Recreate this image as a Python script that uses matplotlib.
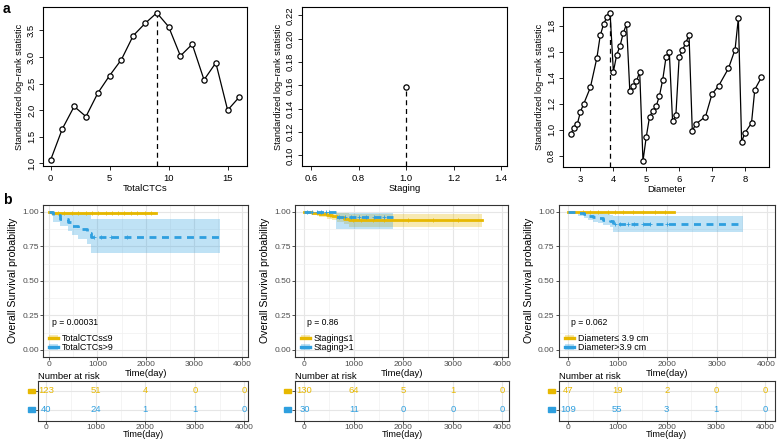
import matplotlib
matplotlib.use('Agg')
import matplotlib.pyplot as plt
import numpy as np
from matplotlib.lines import Line2D
from matplotlib.patches import Patch, Rectangle
from matplotlib.ticker import MultipleLocator

plt.rcParams['font.family'] = ['Liberation Sans', 'DejaVu Sans']

W, H = 778, 440
YELLOW = '#E7B800'
BLUE = '#2E9FDF'

# a: 标准化 log-rank 统计量
ctc_x = list(range(17))
ctc_stat = [1.06, 1.65, 2.07, 1.88, 2.32, 2.65, 2.95, 3.40, 3.63, 3.83, 3.57, 3.02, 3.24, 2.57, 2.89, 2.00, 2.25]
ctc_cut = 9

stage_x = [1.0]
stage_stat = [0.159]
stage_cut = 1.0

dia_x = [2.7, 2.8, 2.9, 3.0, 3.1, 3.3, 3.5, 3.6, 3.7, 3.8, 3.9,
         4.0, 4.1, 4.2, 4.3, 4.4, 4.5, 4.6, 4.7, 4.8, 4.9,
         5.0, 5.1, 5.2, 5.3, 5.4, 5.5, 5.6, 5.7, 5.8, 5.9,
         6.0, 6.1, 6.2, 6.3, 6.4, 6.5, 6.8, 7.0, 7.2, 7.5, 7.7, 7.8, 7.9, 8.0, 8.2, 8.3, 8.5]
dia_stat = [0.97, 1.01, 1.04, 1.14, 1.20, 1.325, 1.555, 1.725, 1.81, 1.867, 1.898,
            1.446, 1.575, 1.642, 1.743, 1.813, 1.296, 1.335, 1.371, 1.446, 0.759,
            0.945, 1.10, 1.144, 1.18, 1.26, 1.384, 1.557, 1.60, 1.064, 1.11,
            1.557, 1.611, 1.668, 1.728, 0.989, 1.043, 1.10, 1.275, 1.337, 1.472, 1.617, 1.857, 0.906, 0.976, 1.051, 1.309, 1.402]
dia_cut = 3.9

# b: 生存曲线 (阶梯起点, 生存率, 置信区间)
ctc_lo_t = [0, 60]
ctc_lo_s = [1.0, 0.992]
ctc_lo_l = [1.0, 0.976]
ctc_lo_u = [1.0, 1.0]
ctc_lo_end = 2210
ctc_lo_cens = [180, 310, 470, 590, 760, 880, 1010, 1180, 1300, 1420, 1560, 1700, 1830, 1990, 2120]
ctc_hi_t = [0, 90, 230, 400, 470, 600, 780, 870]
ctc_hi_s = [1.0, 0.975, 0.95, 0.925, 0.9, 0.875, 0.85, 0.816]
ctc_hi_l = [1.0, 0.93, 0.90, 0.86, 0.83, 0.80, 0.77, 0.70]
ctc_hi_u = [1.0, 1.0, 0.985, 0.985, 0.985, 0.982, 0.982, 0.946]
ctc_hi_end = 3540
ctc_hi_cens = [940, 1080, 1290, 1620]

stg_lo_t = [0, 150, 300, 450, 550, 650, 800, 900]
stg_lo_s = [1.0, 0.992, 0.985, 0.977, 0.969, 0.961, 0.95, 0.94]
stg_lo_l = [1.0, 0.978, 0.965, 0.952, 0.94, 0.928, 0.912, 0.89]
stg_lo_u = [1.0, 1.0, 1.0, 1.0, 0.998, 0.995, 0.99, 0.988]
stg_lo_end = 3585
stg_lo_cens = [260, 520, 980, 1150, 1380, 1600, 2100, 2600, 3100]
stg_hi_t = [0, 640]
stg_hi_s = [1.0, 0.96]
stg_hi_l = [1.0, 0.875]
stg_hi_u = [1.0, 0.99]
stg_hi_end = 1800
stg_hi_cens = [60, 150, 260, 330, 430, 500, 700, 820, 950, 1100, 1250, 1400, 1600]

dia_lo_t = [0]
dia_lo_s = [1.0]
dia_lo_l = [1.0]
dia_lo_u = [1.0]
dia_lo_end = 2140
dia_lo_cens = [300, 450, 600, 800, 950, 1100, 1300, 1500, 1750, 1950]
dia_hi_t = [0, 200, 330, 410, 510, 610, 710, 840, 910]
dia_hi_s = [1.0, 0.991, 0.982, 0.972, 0.963, 0.953, 0.943, 0.933, 0.911]
dia_hi_l = [1.0, 0.973, 0.958, 0.943, 0.93, 0.916, 0.903, 0.89, 0.851]
dia_hi_u = [1.0, 1.0, 1.0, 1.0, 0.997, 0.99, 0.984, 0.978, 0.971]
dia_hi_end = 3535
dia_hi_cens = [940, 1050, 1200, 1330, 1500, 1650, 2000]

# 风险人数表
risk_times = [0, 1000, 2000, 3000, 4000]
ctc_risk_lo = [123, 51, 4, 0, 0]
ctc_risk_hi = [40, 24, 1, 1, 0]
stg_risk_lo = [130, 64, 5, 1, 0]
stg_risk_hi = [30, 11, 0, 0, 0]
dia_risk_lo = [47, 19, 2, 0, 0]
dia_risk_hi = [109, 55, 3, 1, 0]

ctc_labels = ['TotalCTCs\u22649', 'TotalCTCs>9']
stg_labels = ['Staging\u22641', 'Staging>1']
dia_labels = ['Diameter\u2264 3.9 cm', 'Diameter>3.9 cm']
pvals = ['p = 0.00031', 'p = 0.86', 'p = 0.062']


def px_box(x0, y0, x1, y1):
    """像素框 -> figure 坐标"""
    return [x0 / W, 1 - y1 / H, (x1 - x0) / W, (y1 - y0) / H]


def draw_maxstat(ax, xs, stats, cut, xlabel, xlim, ylim, xstep, ystep, yfmt):
    ax.plot(xs, stats, color='black', lw=0.9, marker='o', ms=3.8,
            mfc='white', mec='black', mew=0.9, zorder=3)
    top = stats[xs.index(cut)]
    ax.plot([cut, cut], [ylim[0], top], color='black', lw=0.9, ls='--', dashes=(4, 3))
    ax.set_xlim(xlim)
    ax.set_ylim(ylim)
    ax.xaxis.set_major_locator(MultipleLocator(xstep))
    ax.yaxis.set_major_locator(MultipleLocator(ystep))
    ax.yaxis.set_major_formatter(plt.FormatStrFormatter(yfmt))
    ax.tick_params(length=3, width=0.6, labelsize=6.8, pad=3, color='black')
    ax.tick_params(axis='y', labelrotation=90, pad=2)
    for lab in ax.get_yticklabels():
        lab.set_va('center')
    for sp in ax.spines.values():
        sp.set_linewidth(0.8)
    ax.set_xlabel(xlabel, fontsize=6.8, labelpad=0.5)
    ax.set_ylabel('Standardized log\u2212rank statistic', fontsize=6.6, labelpad=2.5)


def gg_style(ax):
    ax.set_axisbelow(True)
    ax.grid(True, which='major', color='#E6E6E6', lw=0.8)
    ax.grid(True, which='minor', color='#F0F0F0', lw=0.5)
    for sp in ax.spines.values():
        sp.set_color('#333333')
        sp.set_linewidth(0.8)
    ax.tick_params(which='major', length=2, width=0.6, color='#333333',
                   labelsize=6, labelcolor='#4D4D4D', pad=1)
    ax.tick_params(which='minor', length=0)


def draw_km(ax, curves, labels, pval, xlim):
    # 先画置信带, 再画曲线
    for t, s, lo, hi, end, cens, color, dashed in curves:
        tt = t + [end]
        ax.fill_between(tt, lo + [lo[-1]], hi + [hi[-1]], step='post',
                        color=color, alpha=0.3, lw=0)
    for t, s, lo, hi, end, cens, color, dashed in curves:
        tt = t + [end]
        ss = s + [s[-1]]
        line, = ax.step(tt, ss, where='post', color=color, lw=2)
        if dashed:
            line.set_dashes((2.5, 2))
        idx = np.searchsorted(t, cens, side='right') - 1
        ax.plot(cens, np.array(s)[idx], ls='none', marker='+', ms=2.6,
                mew=0.6, color=color)
    ax.set_xlim(xlim)
    ax.set_ylim(-0.05, 1.05)
    ax.set_xticks(risk_times)
    ax.xaxis.set_minor_locator(MultipleLocator(500))
    ax.set_yticks([0, 0.25, 0.5, 0.75, 1.0])
    ax.set_yticklabels(['0.00', '0.25', '0.50', '0.75', '1.00'])
    ax.yaxis.set_minor_locator(MultipleLocator(0.125))
    gg_style(ax)
    ax.text(50, 0.2, pval, fontsize=6.2, va='center', ha='left')
    handles = [(Patch(facecolor=YELLOW, alpha=0.3, lw=0), Line2D([], [], color=YELLOW, lw=2.4)),
               (Patch(facecolor=BLUE, alpha=0.3, lw=0), Line2D([], [], color=BLUE, lw=2.4))]
    ax.legend(handles, labels, loc='lower left', bbox_to_anchor=(0.03, 0.03),
              frameon=False, fontsize=6.4, handlelength=1.0, handleheight=0.55,
              labelspacing=0.05, handletextpad=0.4, borderpad=0, borderaxespad=0)
    ax.set_xlabel('Time(day)', fontsize=6.8, labelpad=0.5)
    ax.set_ylabel('Overall Survival probability', fontsize=7.6, labelpad=3)


def draw_risk(ax, counts_lo, counts_hi, xlim):
    for row, counts, color in ((2, counts_lo, YELLOW), (1, counts_hi, BLUE)):
        for t, n in zip(risk_times, counts):
            ax.text(t, row, str(n), color=color, ha='center', va='center', fontsize=6.8)
        ax.add_patch(Rectangle((-0.05, row - 0.12), 0.033, 0.24,
                               transform=ax.get_yaxis_transform(),
                               color=color, clip_on=False))
    ax.set_xlim(xlim)
    ax.set_ylim(0.4, 2.55)
    ax.set_xticks(risk_times)
    ax.xaxis.set_minor_locator(MultipleLocator(500))
    ax.set_yticks([1, 2])
    ax.set_yticklabels(['', ''])
    gg_style(ax)
    ax.tick_params(axis='x', pad=0.3)
    ax.set_title('Number at risk', loc='left', fontsize=6.8, pad=1.5)
    ax.set_xlabel('Time(day)', fontsize=6.6, labelpad=-0.5)


fig = plt.figure(figsize=(W / 100, H / 100), dpi=100)

# a 行
ax1 = fig.add_axes(px_box(43, 7, 247, 166))
draw_maxstat(ax1, ctc_x, ctc_stat, ctc_cut, 'TotalCTCs', (-0.64, 16.64), (0.95, 3.94), 5, 0.5, '%.1f')
ax2 = fig.add_axes(px_box(302, 7, 507, 166))
draw_maxstat(ax2, stage_x, stage_stat, stage_cut, 'Staging', (0.562, 1.425), (0.091, 0.2272), 0.2, 0.02, '%.2f')
ax3 = fig.add_axes(px_box(563, 7, 769, 167))
draw_maxstat(ax3, dia_x, dia_stat, dia_cut, 'Diameter', (2.468, 8.732), (0.713, 1.944), 1, 0.2, '%.1f')

# b 行
km1 = fig.add_axes(px_box(43.3, 205, 248.3, 356.7))
draw_km(km1, [(ctc_lo_t, ctc_lo_s, ctc_lo_l, ctc_lo_u, ctc_lo_end, ctc_lo_cens, YELLOW, False),
              (ctc_hi_t, ctc_hi_s, ctc_hi_l, ctc_hi_u, ctc_hi_end, ctc_hi_cens, BLUE, True)],
        ctc_labels, pvals[0], (-120, 4125))
km2 = fig.add_axes(px_box(295, 205, 508.3, 356.7))
draw_km(km2, [(stg_lo_t, stg_lo_s, stg_lo_l, stg_lo_u, stg_lo_end, stg_lo_cens, YELLOW, False),
              (stg_hi_t, stg_hi_s, stg_hi_l, stg_hi_u, stg_hi_end, stg_hi_cens, BLUE, True)],
        stg_labels, pvals[1], (-190, 4120))
km3 = fig.add_axes(px_box(558.7, 205, 774.7, 356.7))
draw_km(km3, [(dia_lo_t, dia_lo_s, dia_lo_l, dia_lo_u, dia_lo_end, dia_lo_cens, YELLOW, False),
              (dia_hi_t, dia_hi_s, dia_hi_l, dia_hi_u, dia_hi_end, dia_hi_cens, BLUE, True)],
        dia_labels, pvals[2], (-190, 4165))

rk1 = fig.add_axes(px_box(38.3, 380.7, 248.3, 420.7))
draw_risk(rk1, ctc_risk_lo, ctc_risk_hi, (-160, 4080))
rk2 = fig.add_axes(px_box(295, 380.7, 509.3, 420.7))
draw_risk(rk2, stg_risk_lo, stg_risk_hi, (-190, 4140))
rk3 = fig.add_axes(px_box(558.7, 380.7, 774.7, 420.7))
draw_risk(rk3, dia_risk_lo, dia_risk_hi, (-190, 4190))

fig.text(0.004, 0.995, 'a', fontsize=10, fontweight='bold', va='top', ha='left')
fig.text(0.004, 1 - 193 / H, 'b', fontsize=10, fontweight='bold', va='top', ha='left')

fig.savefig('out.png', dpi=100)
